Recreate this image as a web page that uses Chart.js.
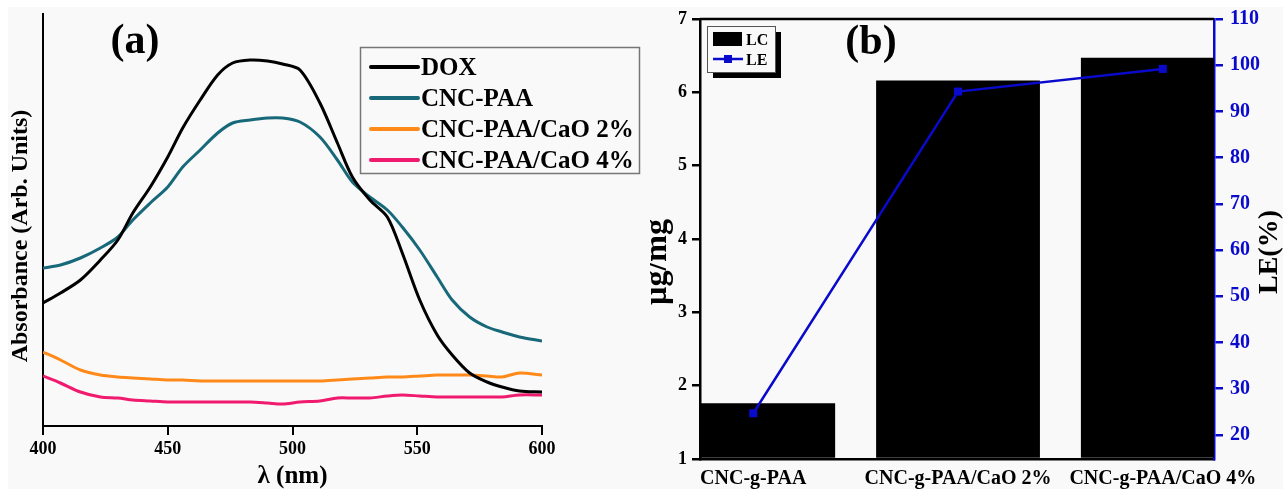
<!DOCTYPE html>
<html><head><meta charset="utf-8">
<script src="https://cdn.jsdelivr.net/npm/chart.js@4.4.1/dist/chart.umd.min.js"></script>
<style>
html,body{margin:0;padding:0;background:#fff;width:1287px;height:489px;overflow:hidden;}
#bg{position:absolute;left:8px;top:7px;width:1275px;height:482px;background:#f9f9f9;}
#ca{position:absolute;left:0;top:0;}
#cb{position:absolute;left:650px;top:0;}
</style></head><body>
<div id="bg"></div>
<canvas id="ca" width="650" height="489"></canvas>
<canvas id="cb" width="637" height="489"></canvas>
<script>
// ---------- Panel (a) data ----------
const wavelength = [400,407,415,423,430,436,443,450,456,463,470,476,483,490,496,503,511,518,524,531,538,544,551,558,564,571,578,584,591,600];
const doxAbs   = [1.23,1.33,1.46,1.66,1.86,2.13,2.39,2.69,2.98,3.26,3.51,3.63,3.66,3.65,3.62,3.56,3.23,2.83,2.49,2.26,2.09,1.73,1.26,0.91,0.71,0.53,0.44,0.39,0.35,0.34];
const cncPaaAbs = [1.58,1.61,1.68,1.78,1.89,2.06,2.23,2.39,2.59,2.76,2.93,3.03,3.06,3.08,3.08,3.04,2.89,2.66,2.44,2.29,2.16,1.99,1.76,1.49,1.26,1.09,0.99,0.94,0.89,0.85];
const cao2Abs  = [0.74,0.66,0.56,0.51,0.49,0.48,0.47,0.46,0.46,0.45,0.45,0.45,0.45,0.45,0.45,0.45,0.45,0.46,0.47,0.48,0.49,0.49,0.50,0.51,0.51,0.51,0.50,0.49,0.53,0.51];
const cao4Abs  = [0.50,0.43,0.34,0.29,0.28,0.26,0.25,0.24,0.24,0.24,0.24,0.24,0.24,0.23,0.22,0.24,0.25,0.28,0.28,0.28,0.30,0.31,0.30,0.29,0.29,0.29,0.29,0.29,0.31,0.31];
const seriesNamesA = ['DOX','CNC-PAA','CNC-PAA/CaO 2%','CNC-PAA/CaO 4%'];
const seriesValuesA = [doxAbs, cncPaaAbs, cao2Abs, cao4Abs];
const seriesColorsA = ['#000000','#17697a','#ff8a1a','#f01a6e'];
const xTicksA = [400,450,500,550,600];
const xTitleA = 'λ (nm)';
const yTitleA = 'Absorbance (Arb. Units)';

// ---------- Panel (b) data ----------
const categoriesB = ['CNC-g-PAA','CNC-g-PAA/CaO 2%','CNC-g-PAA/CaO 4%'];
const lcValues = [1.76, 6.16, 6.47];
const leValues = [24.7, 94.3, 99.2];
const lcTicks = [1,2,3,4,5,6,7];
const leTicks = [20,30,40,50,60,70,80,90,100,110];
const yTitleB = 'µg/mg';
const y1TitleB = 'LE(%)';
const panelTitles = ['(a)','(b)'];

const F = "'Liberation Serif','Times New Roman',serif";
const BLUE = '#0a0acc';
const BG = '#f9f9f9';

const pluginA = {
  id:'decorA',
  afterDraw(chart){
    const ctx = chart.ctx;
    ctx.save();
    ctx.fillStyle = '#000';
    ctx.font = `bold 42px ${F}`; ctx.textAlign = 'center'; ctx.textBaseline = 'alphabetic';
    ctx.fillText(panelTitles[0], 135, 53);
    ctx.save();
    ctx.translate(27, 236); ctx.rotate(-Math.PI/2);
    ctx.font = `bold 24px ${F}`; ctx.textAlign='center'; ctx.textBaseline='alphabetic';
    ctx.fillText(yTitleA, 0, 0);
    ctx.restore();
    // legend
    ctx.fillStyle = BG; ctx.fillRect(360,47,279,126);
    ctx.strokeStyle = '#777'; ctx.lineWidth = 1.5; ctx.strokeRect(360.5,47.5,279,126);
    chart.data.datasets.forEach((d,i)=>{
      const y = 67 + i*31;
      ctx.strokeStyle = d.borderColor; ctx.lineWidth = 4; ctx.lineCap = 'round';
      ctx.beginPath(); ctx.moveTo(371,y); ctx.lineTo(418,y); ctx.stroke();
      ctx.fillStyle = '#000'; ctx.font = `bold 25px ${F}`; ctx.textAlign='left'; ctx.textBaseline='alphabetic';
      ctx.fillText(d.label, 421, y + 8);
    });
    ctx.restore();
  }
};

new Chart(document.getElementById('ca'), {
  type:'line',
  data:{ datasets: seriesNamesA.map((n,i)=>({
    label:n,
    data: wavelength.map((w,j)=>({x:w, y:seriesValuesA[i][j]})),
    borderColor: seriesColorsA[i], backgroundColor: seriesColorsA[i],
    borderWidth:3, pointRadius:0, tension:0.3, fill:false
  }))},
  options:{
    responsive:false, animation:false,
    layout:{padding:{top:14,right:108,left:0,bottom:0}},
    plugins:{legend:{display:false}, tooltip:{enabled:false}},
    scales:{
      x:{type:'linear', min:400, max:600,
        afterBuildTicks(s){ s.ticks = xTicksA.map(v=>({value:v})); },
        afterFit(s){ s.height = 63; },
        ticks:{font:{family:F,size:18,weight:'bold'}, color:'#000', padding:4, maxRotation:0},
        grid:{drawOnChartArea:false, drawTicks:true, tickLength:9, color:'#000', lineWidth:2},
        border:{display:true, color:'#000', width:2},
        title:{display:true, text:xTitleA, color:'#000', font:{family:F,size:25,weight:'bold'}, padding:{top:0,bottom:-3}}
      },
      y:{min:0, max:4.12,
        afterFit(s){ s.width = 43; },
        ticks:{display:false}, grid:{display:false, drawTicks:false},
        border:{display:true, color:'#000', width:2}
      }
    }
  },
  plugins:[pluginA]
});

const pluginB = {
  id:'decorB',
  afterDraw(chart){
    const ctx = chart.ctx, a = chart.chartArea;
    ctx.save();
    ctx.strokeStyle = '#000'; ctx.lineWidth = 2.5;
    ctx.beginPath(); ctx.moveTo(a.left, a.top); ctx.lineTo(a.right, a.top); ctx.stroke();
    ctx.fillStyle = '#000';
    ctx.font = `bold 42px ${F}`; ctx.textAlign='center'; ctx.textBaseline='alphabetic';
    ctx.fillText(panelTitles[1], 221, 54);
    ctx.save(); ctx.translate(16, 262); ctx.rotate(-Math.PI/2);
    ctx.font = `bold 32px ${F}`; ctx.fillText(yTitleB, 0, 0); ctx.restore();
    ctx.save(); ctx.translate(627, 252); ctx.rotate(-Math.PI/2);
    ctx.font = `bold 28px ${F}`; ctx.fillText(y1TitleB, 0, 0); ctx.restore();
    // legend with shadow
    ctx.fillStyle = '#000'; ctx.fillRect(63,32,68,46);
    ctx.fillStyle = BG; ctx.fillRect(57,26,68,46);
    ctx.strokeStyle = '#555'; ctx.lineWidth = 1; ctx.strokeRect(57.5,26.5,68,46);
    const ds = chart.data.datasets;
    ctx.fillStyle = ds[0].backgroundColor; ctx.fillRect(63,32,29,14);
    ctx.strokeStyle = ds[1].borderColor; ctx.lineWidth = 2.5;
    ctx.beginPath(); ctx.moveTo(63,59); ctx.lineTo(93,59); ctx.stroke();
    ctx.fillStyle = ds[1].borderColor; ctx.fillRect(74,55,8,8);
    ctx.fillStyle = '#000'; ctx.font = `bold 16px ${F}`; ctx.textAlign='left'; ctx.textBaseline='alphabetic';
    ctx.fillText(ds[0].label, 96, 45);
    ctx.fillText(ds[1].label, 96, 65);
    ctx.restore();
  }
};

new Chart(document.getElementById('cb'), {
  data:{ datasets:[
    {type:'bar', label:'LC', data: categoriesB.map((c,i)=>({x:i, y:lcValues[i]})),
      backgroundColor:'#000', borderWidth:0, xAxisID:'x', yAxisID:'y',
      categoryPercentage:0.8, barPercentage:1.0, clip:0, base:1, order:2},
    {type:'line', label:'LE', data: categoriesB.map((c,i)=>({x:i, y:leValues[i]})),
      borderColor:BLUE, backgroundColor:BLUE, borderWidth:2.5, pointStyle:'rect', pointRadius:5.7,
      pointBackgroundColor:BLUE, pointBorderColor:BLUE, pointBorderWidth:0,
      xAxisID:'x', yAxisID:'y1', order:1, clip:false, tension:0}
  ]},
  options:{
    responsive:false, animation:false,
    layout:{padding:{top:17,left:0,right:0,bottom:0}},
    plugins:{legend:{display:false}, tooltip:{enabled:false}},
    scales:{
      x:{type:'linear', min:-0.26, max:2.25, offset:false,
        afterBuildTicks(s){ s.ticks = categoriesB.map((c,i)=>({value:i})); },
        afterFit(s){ s.height = 30; },
        ticks:{callback:(v)=>categoriesB[v], font:{family:F,size:20,weight:'bold'}, color:'#000', padding:8, maxRotation:0, autoSkip:false},
        grid:{display:false, drawTicks:false, offset:false},
        border:{display:true, color:'#000', width:2.5}
      },
      y:{position:'left', min:1, max:7,
        afterBuildTicks(s){ s.ticks = lcTicks.map(v=>({value:v})); },
        afterFit(s){ s.width = 50; },
        ticks:{font:{family:F,size:18,weight:'bold'}, color:'#000', padding:5},
        grid:{drawOnChartArea:false, drawTicks:true, tickLength:8, color:'#000', lineWidth:2.5},
        border:{display:true, color:'#000', width:2.5}
      },
      y1:{position:'right', min:14.8, max:110,
        afterBuildTicks(s){ s.ticks = leTicks.map(v=>({value:v})); },
        afterFit(s){ s.width = 73; },
        ticks:{font:{family:F,size:20,weight:'bold'}, color:BLUE, padding:7},
        grid:{drawOnChartArea:false, drawTicks:true, tickLength:9, color:BLUE, lineWidth:2.5},
        border:{display:true, color:BLUE, width:2.5}
      }
    }
  },
  plugins:[pluginB]
});
</script>
</body></html>
